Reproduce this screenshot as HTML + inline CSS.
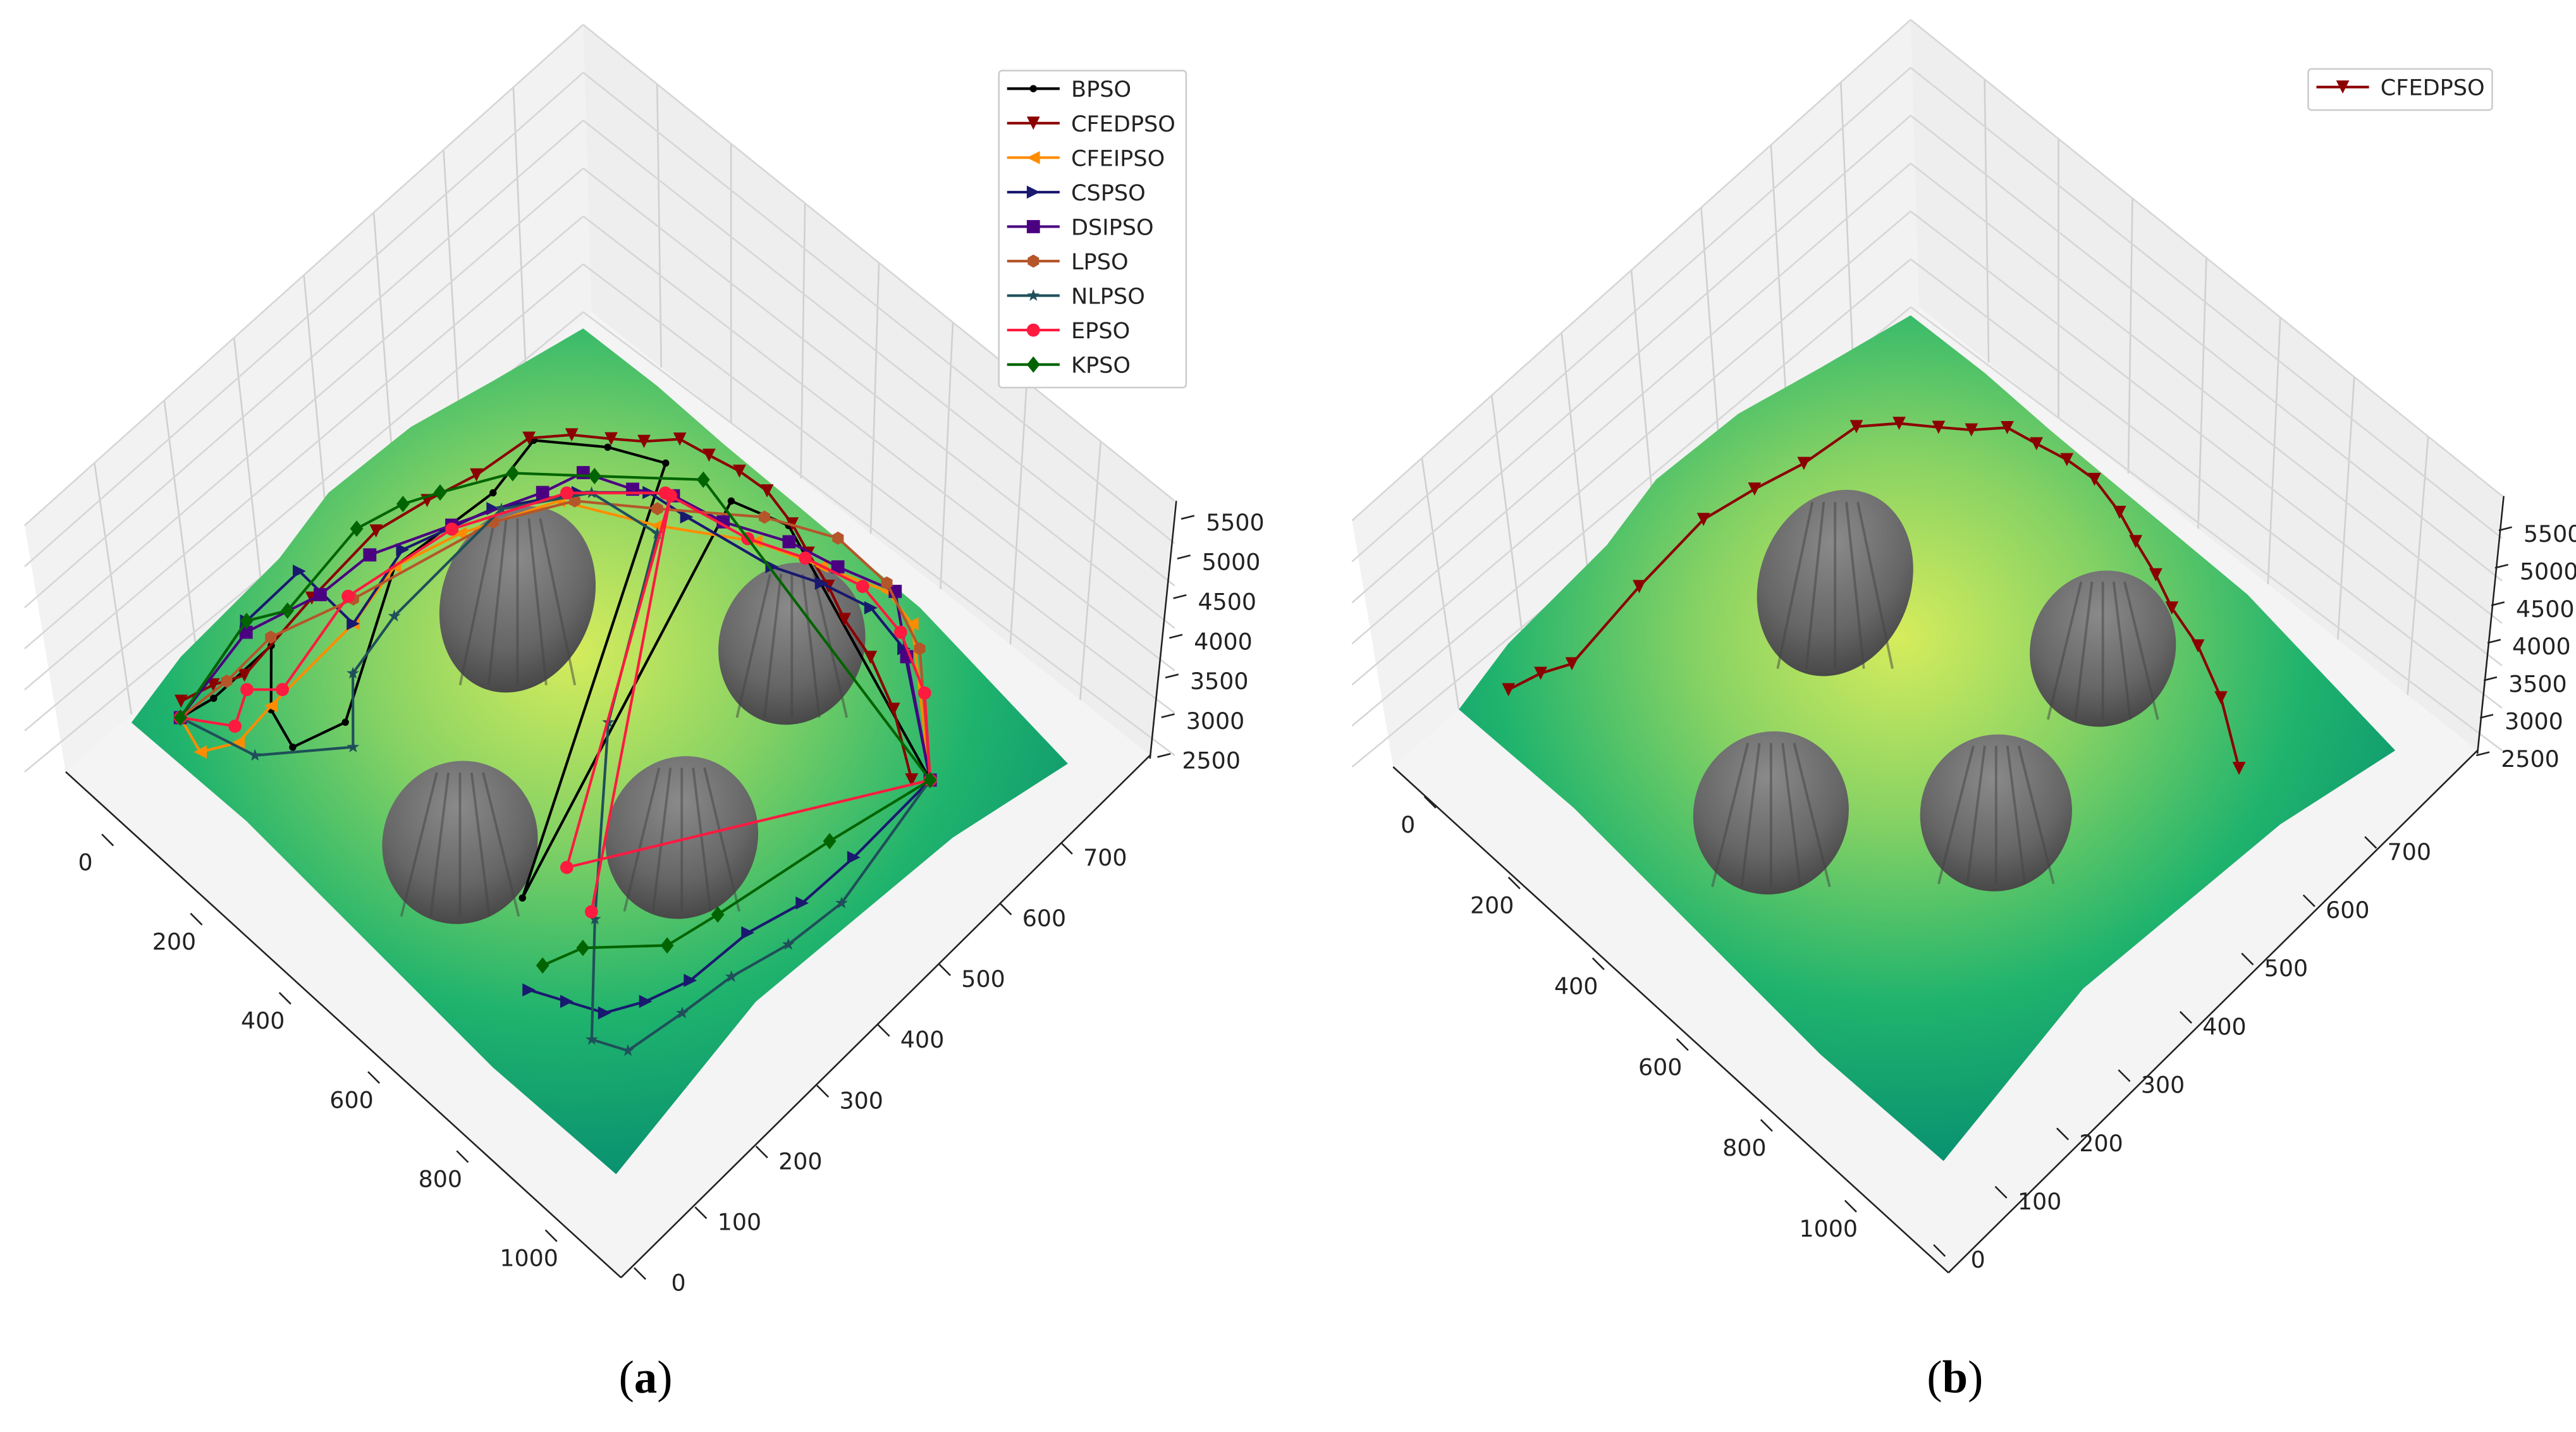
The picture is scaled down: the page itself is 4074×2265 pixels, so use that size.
<!DOCTYPE html>
<html><head><meta charset="utf-8"><style>
html,body{margin:0;padding:0;background:#fff;}
svg{display:block;}
text{font-family:"DejaVu Sans","Liberation Sans",sans-serif;}
</style></head><body>
<svg id="fig" width="4074" height="2265" viewBox="0 0 1568 872" preserveAspectRatio="none" xmlns="http://www.w3.org/2000/svg">
<defs>
<radialGradient id="surfA" cx="0.47" cy="0.38" r="0.62">
<stop offset="0" stop-color="#d6ec5c"/><stop offset="0.35" stop-color="#86d264"/><stop offset="0.7" stop-color="#1fb36d"/><stop offset="1" stop-color="#0a9270"/>
</radialGradient>
<radialGradient id="obs" cx="0.4" cy="0.3" r="0.8">
<stop offset="0" stop-color="#8a8a8a"/><stop offset="0.6" stop-color="#666"/><stop offset="1" stop-color="#3e3e3e"/>
</radialGradient>
</defs>
<g id="panelA"></g>
<g id="panelB"></g>
<text x="393" y="848" text-anchor="middle" font-size="28" style="font-family:'Liberation Serif',serif">(<tspan font-weight="bold">a</tspan>)</text>
<text x="1190" y="848" text-anchor="middle" font-size="28" style="font-family:'Liberation Serif',serif">(<tspan font-weight="bold">b</tspan>)</text>
</svg>
<script>
// ---- data (x, y in plane units) ----
const seriesNames = ["BPSO","CFEDPSO","CFEIPSO","CSPSO","DSIPSO","LPSO","NLPSO","EPSO","KPSO"];
const seriesColors = ["#000000","#8b0000","#ff8c00","#191970","#4b0082","#b5562a","#1f4f5a","#ff1a40","#006400"];
const seriesMarkers = ["dot","tdown","tleft","tright","square","hex","star","circle","diamond"];
const bpsoX = [58,72,77,142,202,230,122,147,135,217,292,588,397,480,882];
const bpsoY = [131,171,255,206,194,253,409,540,611,662,694,254,715,740,654];
const cfedX = [42,58,80,70,67,88,112,128,168,212,248,282,328,375,423,482,528,582,632,697,773,863];
const cfedY = [144,181,212,322,422,484,541,609,644,671,694,723,733,744,750,744,734,724,711,702,680,640];
const cfeiX = [58,113,142,138,138,122,155,222,347,463,555,647,705,882];
const cfeiY = [131,120,156,209,334,409,484,584,640,703,734,765,759,654];
const cspsoX = [58,27,30,138,113,163,233,305,368,505,572,647,722,882,883,877,852,842,818,788,738,688];
const cspsoY = [131,255,333,334,428,528,605,659,669,696,721,740,734,654,537,463,399,319,269,229,209,189];
const dsipX = [58,38,75,85,138,197,218,285,333,410,497,572,655,733,882];
const dsipY = [131,246,331,399,484,578,624,649,675,693,728,746,771,730,654];
const lpsoX = [58,68,68,113,177,238,330,447,543,638,738,882];
const lpsoY = [131,194,261,353,518,596,653,728,768,771,746,654];
const nlpsoX = [58,172,263,188,172,172,247,355,497,683,802,850,867,880,905,917,882];
const nlpsoY = [131,159,240,296,371,534,615,634,453,293,199,218,288,353,421,493,654];
const epsoX = [58,122,97,133,105,142,222,322,452,530,617,702,788,882,602,330,672];
const epsoY = [131,166,203,230,351,481,596,671,699,728,750,744,716,654,311,673,296];
const kpsoX = [58,27,58,45,67,93,147,233,347,882,842,803,783,700,677];
const kpsoY = [131,255,294,409,463,500,570,630,710,654,531,390,328,262,218];
const seriesXs = [bpsoX,cfedX,cfeiX,cspsoX,dsipX,lpsoX,nlpsoX,epsoX,kpsoX];
const seriesYs = [bpsoY,cfedY,cfeiY,cspsoY,dsipY,lpsoY,nlpsoY,epsoY,kpsoY];
const xTicks = [0,200,400,600,800,1000];
const yTicks = [0,100,200,300,400,500,600,700];
const zTicks = [5500,5000,4500,4000,3500,3000,2500];

const NS="http://www.w3.org/2000/svg";
function mk(parent,tag,attrs){const e=document.createElementNS(NS,tag);for(const k in attrs)e.setAttribute(k,attrs[k]);parent.appendChild(e);return e;}
function proj(o,x,y){return [o[0]+0.3*x+0.4*y, o[1]+0.3*x-0.4*y];}

function drawBox(g,dx,dy,zpos){
  const P=(x,y)=>[x+dx,y+dy];
  const pts=a=>a.map(p=>P(p[0],p[1]).join(",")).join(" ");
  let e=mk(g,"polygon",{points:pts([[15,320],[355,15],[360,190],[40,470]]),fill:"#f2f2f2"});
  
  
  e=mk(g,"polygon",{points:pts([[355,15],[715,305],[700,460],[360,190]]),fill:"#eeeeee"});
  
  
  e=mk(g,"polygon",{points:pts([[40,470],[360,190],[700,460],[378,778]]),fill:"#f4f4f4"});
  
  
  for(let i=1;i<8;i++){const t=i/8;
    const a=P(15+(355-15)*t,320+(15-320)*t), b=P(40+(360-40)*t,470+(190-470)*t);
    mk(g,"line",{x1:a[0],y1:a[1],x2:b[0],y2:b[1],stroke:"#d0d0d0","stroke-width":1});
    const c=P(355+(715-355)*t,15+(305-15)*t), d=P(360+(700-360)*t,190+(460-190)*t);
    mk(g,"line",{x1:c[0],y1:c[1],x2:d[0],y2:d[1],stroke:"#d0d0d0","stroke-width":1});
  }
  zpos.forEach((yy,i)=>{const t=i/(zpos.length-1);
    const a=P(15,320+t*150),b=P(355,15+t*175); mk(g,"line",{x1:a[0],y1:a[1],x2:b[0],y2:b[1],stroke:"#d6d6d6","stroke-width":1});
    const c=P(355,15+t*175),d=P(715,305+t*155); mk(g,"line",{x1:c[0],y1:c[1],x2:d[0],y2:d[1],stroke:"#d6d6d6","stroke-width":1});
  });
  const l1a=P(40,470),l1b=P(378,778),l2b=P(700,460);
  mk(g,"line",{x1:l1a[0],y1:l1a[1],x2:l1b[0],y2:l1b[1],stroke:"#222","stroke-width":1});
  mk(g,"line",{x1:l1b[0],y1:l1b[1],x2:l2b[0],y2:l2b[1],stroke:"#222","stroke-width":1});
  const z1=P(716,305),z2=P(700,462);
  mk(g,"line",{x1:z1[0],y1:z1[1],x2:z2[0],y2:z2[1],stroke:"#222","stroke-width":1});
}

function drawSurface(g,dx,dy){
  const P=a=>a.map(p=>(p[0]+dx)+","+(p[1]+dy)).join(" ");
  const s=mk(g,"polygon",{points:P([[80,440],[110,400],[170,340],[200,300],[250,260],[300,232],[355,200],[400,235],[440,270],[500,320],[560,370],[650,465],[580,510],[520,560],[460,610],[375,715],[300,650],[230,580],[150,500]]),fill:"url(#surfA)"});
  
  
}

function drawObstacles(g,list){
  list.forEach((o,i)=>{
    const e=mk(g,"ellipse",{cx:o[0],cy:o[1],rx:o[2],ry:o[3],fill:"url(#obs)",transform:`rotate(20 ${o[0]} ${o[1]})`});
    
    
    for(let k=-2;k<=2;k++){mk(g,"line",{x1:o[0]+k*o[2]*0.15,y1:o[1]-o[3]*0.85,x2:o[0]+k*o[2]*0.38,y2:o[1]+o[3]*0.9,stroke:"#444","stroke-width":1.5,opacity:0.5});}
  });
}

function marker(g,type,x,y,c){
  const r=4;
  if(type==="dot") return mk(g,"circle",{cx:x,cy:y,r:2.2,fill:c});
  if(type==="circle") return mk(g,"circle",{cx:x,cy:y,r:r,fill:c});
  if(type==="square") return mk(g,"rect",{x:x-r,y:y-r,width:2*r,height:2*r,fill:c});
  if(type==="tdown") return mk(g,"polygon",{points:`${x-r},${y-r} ${x+r},${y-r} ${x},${y+r}`,fill:c});
  if(type==="tleft") return mk(g,"polygon",{points:`${x+r},${y-r} ${x+r},${y+r} ${x-r},${y}`,fill:c});
  if(type==="tright") return mk(g,"polygon",{points:`${x-r},${y-r} ${x-r},${y+r} ${x+r},${y}`,fill:c});
  if(type==="diamond") return mk(g,"polygon",{points:`${x},${y-5} ${x+4},${y} ${x},${y+5} ${x-4},${y}`,fill:c});
  if(type==="hex"){let p=[];for(let k=0;k<6;k++){const a=Math.PI/3*k+Math.PI/6;p.push((x+r*Math.cos(a))+","+(y+r*Math.sin(a)));}return mk(g,"polygon",{points:p.join(" "),fill:c});}
  if(type==="star"){let p=[];for(let k=0;k<10;k++){const a=Math.PI/5*k-Math.PI/2,rr=k%2?1.6:r;p.push((x+rr*Math.cos(a))+","+(y+rr*Math.sin(a)));}return mk(g,"polygon",{points:p.join(" "),fill:c});}
}

function drawSeries(g,o,i){
  const xs=seriesXs[i], ys=seriesYs[i];
  const pts=xs.map((v,k)=>proj(o,v,ys[k]));
  const sg=mk(g,"g",{});
  
  
  mk(sg,"polyline",{points:pts.map(p=>p.join(",")).join(" "),fill:"none",stroke:seriesColors[i],"stroke-width":1.6});
  pts.forEach(p=>marker(sg,seriesMarkers[i],p[0],p[1],seriesColors[i]));
}

// tick label axis functions: label position = base + value*step
function drawTicks(g,xb,xs,yb,ys,zx,zy0,zy1){
  xTicks.forEach(v=>{const p=[xb[0]+v*xs[0], xb[1]+v*xs[1]];
    mk(g,"line",{x1:p[0]+10,y1:p[1]-22,x2:p[0]+17,y2:p[1]-15,stroke:"#222"});
    const t=mk(g,"text",{x:p[0],y:p[1],"font-size":14,"text-anchor":"middle",fill:"#222"});t.textContent=v;
    
    
  });
  yTicks.forEach(v=>{const p=[yb[0]+v*ys[0], yb[1]+v*ys[1]];
    mk(g,"line",{x1:p[0]-27,y1:p[1]-14,x2:p[0]-20,y2:p[1]-7,stroke:"#222"});
    const t=mk(g,"text",{x:p[0],y:p[1],"font-size":14,"text-anchor":"middle",fill:"#222"});t.textContent=v;
    
    
  });
  zTicks.forEach(v=>{const y=zy1+(5500-v)/3000*(zy0-zy1);const x=zx-(y-zy1)*0.1;
    mk(g,"line",{x1:x-3,y1:y-2,x2:x+5,y2:y-4,stroke:"#222"});
    const t=mk(g,"text",{x:x+12,y:y+5,"font-size":14,fill:"#222"});t.textContent=v;
    
    
  });
}

function drawLegend(g,x,y,w,idx){
  const lg=mk(g,"g",{});
  
  
  mk(lg,"rect",{x:x,y:y,width:w,height:idx.length*21+4,fill:"#fff",stroke:"#ccc",rx:2});
  idx.forEach((i,k)=>{const yy=y+11+k*21;
    const e=mk(lg,"g",{});
    
    
    mk(e,"line",{x1:x+5,y1:yy,x2:x+37,y2:yy,stroke:seriesColors[i],"stroke-width":1.6});
    marker(e,seriesMarkers[i],x+21,yy,seriesColors[i]);
    const t=mk(e,"text",{x:x+44,y:yy+5,"font-size":13.5,fill:"#222"});t.textContent=seriesNames[i];
  });
}

const gA=document.getElementById('panelA'), gB=document.getElementById('panelB');
drawBox(gA,0,0,[0,1,2,3,4,5,6]);
drawSurface(gA,0,0);
drawObstacles(gA,[[315,365,46,58],[482,392,44,50],[280,513,47,50],[415,510,46,50]]);
const oA=[40,472];
for(let i=0;i<seriesNames.length;i++) drawSeries(gA,oA,i);
drawTicks(gA,[52,530],[0.27,0.241],[413,786],[0.371,-0.37],722,463,318);
drawLegend(gA,608,43,114,[0,1,2,3,4,5,6,7,8]);

drawBox(gB,808,-3,[0,1,2,3,4,5,6]);
drawSurface(gB,808,-8);
drawObstacles(gB,[[1117,355,46,58],[1280,395,44,48],[1078,495,47,50],[1215,495,46,48]]);
drawSeries(gB,[848,465],1);
drawTicks(gB,[857,507],[0.256,0.246],[1204,772],[0.375,-0.355],1524,462,325);
drawLegend(gB,1405,42,112,[1]);
</script>
</body></html>
